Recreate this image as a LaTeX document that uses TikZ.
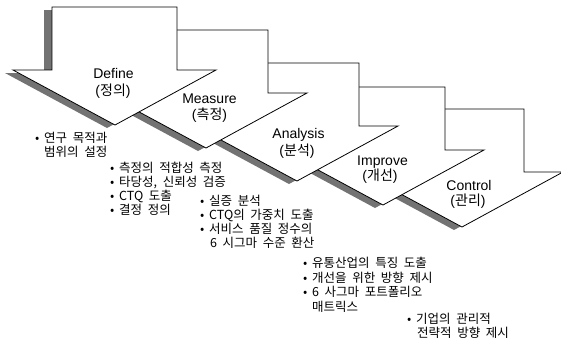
\documentclass[tikz,border=0pt]{standalone}
\usepackage{fontspec}
\setmainfont{Liberation Sans}
\newfontfamily\cjk[WordSpace=2]{Noto Sans CJK KR}
\tikzset{
  arrowbox/.style={fill=white, draw=black, line width=0.8pt, line join=miter},
  shadowfill/.style={fill=black!55, draw=none},
  title/.style={font=\fontsize{14}{16}\selectfont, inner sep=0pt, anchor=base},
  subtitle/.style={font=\fontsize{14}{16}\selectfont, inner sep=0pt, anchor=base},
  item/.style={font=\cjk\fontsize{12.5}{14}\selectfont, inner sep=0pt, anchor=base west},
}
\newcommand{\dmaicarrow}[2]{%
  \begin{scope}[shift={(#1,#2)}]
    \path[shadowfill] (-133,3) -- (-8,3) -- (-8,66) -- (31,66) -- (-70,121) -- (-172,66) -- (-133,66) -- cycle;
    \path[arrowbox] (-125,0) -- (0,0) -- (0,63) -- (39,63) -- (-62,118) -- (-164,63) -- (-125,63) -- cycle;
  \end{scope}}
\newcommand{\blt}{\makebox[9pt][l]{•}}
\begin{document}
\begin{tikzpicture}[x=1pt,y=-1pt]
\useasboundingbox (0,0) rectangle (561,346);
\clip (0,0) rectangle (561,346);
% arrows, back to front
\dmaicarrow{524}{109}
\dmaicarrow{445}{87}
\dmaicarrow{359}{63}
\dmaicarrow{268}{30}
\dmaicarrow{177}{7}
% titles
\node[title] (tD) at (113.5,78) {Define};
\node[subtitle] (sD) at (113,95) {({\cjk 정의})};
\node[title] (tM) at (209.5,103) {Measure};
\node[subtitle] (sM) at (209.5,119) {({\cjk 측정})};
\node[title] (tA) at (298.5,138) {Analysis};
\node[subtitle] (sA) at (297,155) {({\cjk 분석})};
\node[title] (tI) at (382.5,165) {Improve};
\node[subtitle] (sI) at (380,180) {({\cjk 개선})};
\node[title] (tC) at (469,190) {Control};
\node[subtitle] (sC) at (468,205) {({\cjk 관리})};
% Define items
\node[item] (d1) at (35,142.5) {\blt 연구 목적과};
\node[item] (d2) at (44,156.5) {범위의 설정};
% Measure items
\node[item] (m1) at (110,172.5) {\blt 측정의 적합성 측정};
\node[item] (m2) at (110,186.5) {\blt 타당성, 신뢰성 검증};
\node[item] (m3) at (110,200) {\blt CTQ 도출};
\node[item] (m4) at (110,214) {\blt 결정 정의};
% Analysis items
\node[item] (a1) at (200,205.5) {\blt 실증 분석};
\node[item] (a2) at (200,219.5) {\blt CTQ의 가중치 도출};
\node[item] (a3) at (200,233.5) {\blt 서비스 품질 정수의};
\node[item] (a4) at (210,247.5) {6 시그마 수준 환산};
% Improve items
\node[item] (i1) at (303,267.5) {\blt 유통산업의 특징 도출};
\node[item] (i2) at (303,282) {\blt 개선을 위한 방향 제시};
\node[item] (i3) at (303,296.5) {\blt 6 사그마 포트폴리오};
\node[item] (i4) at (312,311.5) {매트릭스};
% Control items
\node[item] (c1) at (407,323) {\blt 기업의 관리적};
\node[item] (c2) at (417,337.5) {전략적 방향 제시};
\end{tikzpicture}
\end{document}
